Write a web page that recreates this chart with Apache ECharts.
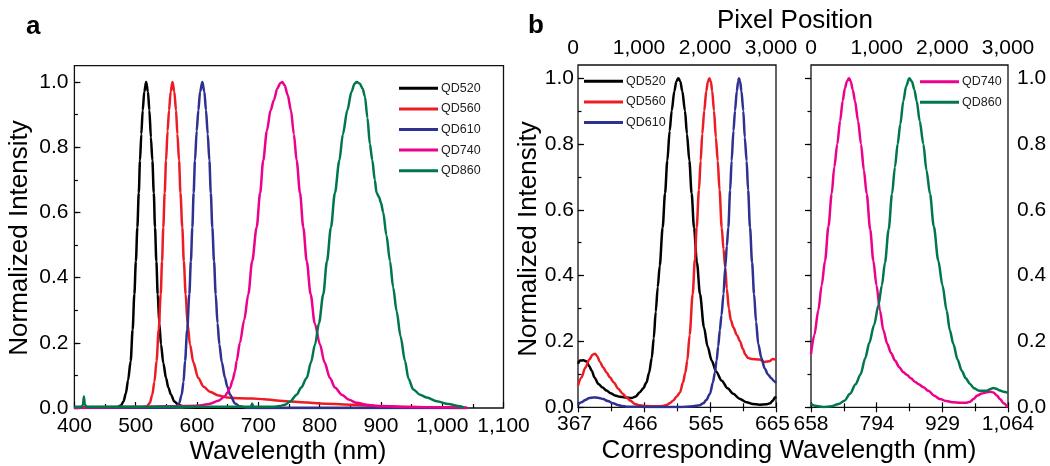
<!DOCTYPE html>
<html><head><meta charset="utf-8">
<script src="https://cdn.jsdelivr.net/npm/echarts@6/dist/echarts.min.js"></script>
<style>html,body{margin:0;padding:0;background:#fff}#c{width:1050px;height:466px}</style>
</head><body><div id="c"></div>
<script>
// ---------- tick labels ----------
const aXTickValues = [400, 500, 600, 700, 800, 900, 1000, 1100];
const aXTickLabels = ['400', '500', '600', '700', '800', '900', '1,000', '1,100'];
const yTickValues = [0, 0.2, 0.4, 0.6, 0.8, 1.0];
const yTickLabels = ['0.0', '0.2', '0.4', '0.6', '0.8', '1.0'];
const yMinorTickValues = [0, 0.1, 0.2, 0.3, 0.4, 0.5, 0.6, 0.7, 0.8, 0.9, 1.0];
const pixelTickValues = [0, 1000, 2000, 3000];
const pixelTickLabels = ['0', '1,000', '2,000', '3,000'];
const b1WlTickValues = [367, 466, 565, 665];
const b1WlTickLabels = ['367', '466', '565', '665'];
const b2WlTickValues = [658, 794, 929, 1064];
const b2WlTickLabels = ['658', '794', '929', '1,064'];

// ---------- series names ----------
const namesA = ['QD520', 'QD560', 'QD610', 'QD740', 'QD860'];
const namesB1 = ['QD520', 'QD560', 'QD610'];
const namesB2 = ['QD740', 'QD860'];

// ---------- panel a data: [wavelength nm, normalized intensity] ----------
const qd520A = [[400,0],[470,0.002],[476,0.008],[480,0.02],[484,0.045],[487.5,0.085],[491.8,0.144],[495,0.24],[497.8,0.349],[500.3,0.45],[502.7,0.554],[505,0.66],[507,0.759],[509.2,0.84],[511.4,0.913],[514,0.97],[517,1.0],[520,0.97],[522.3,0.913],[524.8,0.83],[527.2,0.759],[529.5,0.66],[531.5,0.554],[533.7,0.45],[535.9,0.349],[538.5,0.26],[541.3,0.195],[545,0.138],[549.5,0.092],[553.3,0.062],[557.6,0.041],[563,0.02],[569.6,0.01],[578,0.003],[600,0.001],[650,0],[1040,0]];
const qd560A = [[400,0.002],[510,0.003],[518,0.005],[523,0.015],[527,0.041],[530.5,0.08],[534,0.144],[537.5,0.24],[540.8,0.349],[543,0.45],[545,0.554],[547.3,0.66],[549.5,0.759],[552,0.85],[554.4,0.913],[557,0.97],[560,1.0],[563,0.97],[565.8,0.913],[568,0.84],[570.7,0.759],[573,0.66],[576,0.554],[578.5,0.45],[581.5,0.349],[584.5,0.26],[588.6,0.195],[594,0.14],[602,0.092],[611,0.065],[621,0.05],[635,0.038],[650,0.032],[670,0.03],[690,0.029],[710,0.027],[730,0.023],[750,0.02],[780,0.017],[800,0.014],[850,0.01],[900,0.006],[950,0.003],[1000,0.001],[1040,0]];
const qd610A = [[400,0],[560,0.001],[567,0.003],[571,0.015],[575,0.041],[578,0.08],[580.5,0.144],[584,0.24],[587.5,0.349],[590,0.45],[592.4,0.554],[594.5,0.66],[596.7,0.759],[599.5,0.85],[602.2,0.913],[605,0.97],[608.7,1.0],[612,0.97],[614.7,0.913],[617.5,0.84],[620.2,0.759],[622.5,0.66],[625,0.554],[627.8,0.45],[630.5,0.349],[633.5,0.26],[636.5,0.195],[640.5,0.14],[645.7,0.092],[649.5,0.065],[653.9,0.041],[662,0.014],[670,0.005],[680,0.001],[700,0],[1040,0]];
const qd740A = [[400,0.001],[500,0.003],[550,0.005],[600,0.007],[620,0.012],[635,0.022],[645,0.035],[650,0.048],[654,0.062],[658,0.085],[662,0.113],[664.7,0.144],[670,0.2],[677,0.27],[683.7,0.349],[690,0.45],[697.3,0.554],[703,0.66],[708,0.759],[714,0.85],[720,0.913],[725.5,0.945],[731,0.98],[736,0.997],[739,1.0],[743,0.99],[748,0.96],[753.3,0.913],[758,0.84],[762.6,0.759],[768,0.66],[773.4,0.554],[779,0.45],[785.4,0.349],[792,0.26],[800.6,0.195],[808,0.14],[816.9,0.092],[825,0.063],[836,0.041],[848,0.025],[860.4,0.016],[880,0.009],[900,0.005],[950,0.003],[1000,0.002],[1040,0.001]];
const qd860A = [[400,0.004],[412,0.004],[414,0.01],[415.5,0.035],[417,0.01],[420,0.004],[500,0.004],[600,0.004],[688,0.004],[690,0.014],[692,0.004],[724.5,0.004],[735,0.006],[743.5,0.01],[752,0.02],[762.6,0.041],[770,0.063],[778.9,0.092],[786,0.14],[792.5,0.195],[799,0.26],[806,0.349],[812,0.45],[818.5,0.554],[825,0.66],[832.2,0.759],[838,0.84],[845.2,0.913],[852,0.97],[857,0.995],[860.4,1.0],[865.6,0.995],[870,0.98],[874,0.955],[878,0.89],[882,0.81],[886,0.76],[890,0.7],[893,0.66],[897,0.647],[900,0.63],[903.8,0.6],[909,0.53],[914.8,0.451],[920,0.37],[925.7,0.297],[932,0.22],[939.3,0.144],[945,0.09],[952.8,0.057],[963.7,0.041],[975,0.032],[991,0.021],[1010,0.012],[1029,0.005],[1035,0.001]];

// ---------- panel b data: [corresponding wavelength nm, normalized intensity] ----------
const qd520B = [[367,0.132],[370,0.142],[375,0.143],[380,0.139],[384,0.125],[387.6,0.111],[392,0.09],[397.6,0.071],[404,0.06],[410,0.051],[416,0.043],[422.7,0.036],[430,0.032],[437.7,0.03],[447.8,0.028],[454,0.033],[460,0.046],[465,0.057],[470,0.075],[474,0.105],[478,0.15],[481,0.21],[484,0.29],[487,0.365],[490,0.43],[494.4,0.546],[498,0.65],[501.4,0.749],[505,0.84],[508,0.901],[512,0.96],[515,0.99],[518,1.0],[521,0.99],[524,0.96],[528,0.901],[531,0.83],[534.6,0.749],[538,0.65],[541.6,0.546],[546,0.44],[550.6,0.344],[556.6,0.243],[562,0.185],[568.2,0.142],[575,0.108],[583.3,0.081],[592,0.058],[600.7,0.041],[610,0.026],[620.8,0.015],[630,0.01],[640,0.008],[650,0.009],[656,0.012],[660,0.02],[663.5,0.03],[665,0.033]];
const qd560B = [[367,0.066],[372,0.09],[378,0.12],[384,0.145],[389,0.16],[392.6,0.163],[396,0.155],[400,0.138],[405,0.121],[410,0.106],[415,0.091],[421,0.075],[427.7,0.056],[434,0.042],[440,0.03],[446,0.02],[452.7,0.01],[460,0.006],[470,0.004],[485,0.003],[495,0.004],[500,0.007],[505,0.012],[510,0.02],[515.6,0.033],[520.5,0.045],[525,0.075],[528.5,0.105],[531.5,0.142],[535,0.22],[539.6,0.344],[543,0.45],[545.6,0.546],[549,0.66],[551.6,0.749],[554,0.83],[557,0.901],[560,0.96],[562.5,0.99],[564.7,1.0],[567,0.99],[569,0.96],[571.7,0.901],[574.5,0.82],[577.3,0.749],[580,0.66],[583.3,0.546],[586,0.48],[588.6,0.425],[591,0.36],[594,0.3],[597,0.265],[600.8,0.243],[606,0.22],[611,0.2],[615,0.178],[619,0.16],[623,0.15],[628,0.147],[640,0.145],[648,0.138],[655,0.14],[660,0.147],[665,0.145]];
const qd610B = [[367,0.008],[372,0.015],[378,0.022],[384,0.028],[390,0.03],[397,0.029],[405,0.025],[412,0.019],[420,0.012],[427,0.007],[433,0.004],[440,0.002],[480,0.001],[520,0.001],[540,0.003],[550,0.006],[555.5,0.012],[560,0.022],[565.6,0.041],[570,0.075],[573,0.105],[575.6,0.142],[578,0.185],[580.5,0.235],[583,0.28],[586,0.345],[588.6,0.425],[591,0.49],[593.2,0.546],[596,0.66],[598.2,0.749],[601,0.84],[603.3,0.901],[606,0.96],[608,0.99],[609.3,1.0],[611,0.99],[613,0.96],[615.8,0.901],[618,0.82],[620.8,0.749],[623,0.66],[625.9,0.546],[629,0.44],[632,0.344],[635,0.26],[638.3,0.192],[643,0.15],[648,0.118],[653,0.1],[658,0.088],[662,0.08],[665,0.074]];
const qd740B = [[658,0.162],[665,0.22],[673,0.294],[680,0.37],[686.9,0.445],[694,0.55],[700.6,0.648],[706,0.73],[712.2,0.8],[718,0.87],[723.3,0.931],[728,0.97],[732,0.99],[736.3,1.0],[740,0.99],[744,0.965],[748.7,0.931],[755,0.87],[761,0.8],[767,0.72],[772.8,0.648],[780,0.54],[786.5,0.445],[793,0.37],[800.2,0.294],[807,0.235],[815.3,0.192],[823,0.165],[831.1,0.142],[840,0.122],[848,0.107],[855.2,0.099],[864,0.088],[872,0.078],[880,0.07],[889.5,0.061],[900,0.05],[912,0.035],[923.9,0.025],[937,0.019],[951.4,0.015],[965,0.014],[979,0.014],[986,0.017],[992.7,0.025],[1000,0.035],[1010,0.042],[1020,0.046],[1027,0.047],[1033.8,0.045],[1041,0.036],[1047.5,0.025],[1055,0.012],[1063,0.0]];
const qd860B = [[658,0.01],[670,0.004],[683,0.001],[700,0.003],[715,0.01],[727,0.02],[738.4,0.041],[750,0.07],[760,0.1],[770,0.15],[778,0.195],[788,0.25],[797,0.31],[804,0.37],[810.5,0.44],[818,0.54],[825,0.648],[831,0.73],[836.6,0.8],[842,0.86],[848.3,0.931],[854,0.975],[860.6,1.0],[866,0.99],[871,0.965],[875.8,0.931],[882,0.87],[889.5,0.8],[896,0.72],[903.3,0.648],[911,0.55],[920.4,0.445],[929,0.37],[937.6,0.294],[944,0.235],[951.4,0.192],[960,0.145],[968.6,0.111],[977,0.088],[985.7,0.071],[994,0.058],[1002.8,0.051],[1010,0.05],[1020,0.05],[1027,0.055],[1033.8,0.059],[1040,0.056],[1047.5,0.051],[1055,0.047],[1064,0.044]];

// ---------- styles ----------
const seriesColors = { QD520: '#000000', QD560: '#ED1C24', QD610: '#2E3192', QD740: '#EC008C', QD860: '#00774A' };
const FONT = "'Liberation Sans', Arial, Helvetica, sans-serif";

function lookup(values, labels) {
  return function (v) {
    let best = -1, bd = Infinity;
    values.forEach((t, i) => { const d = Math.abs(t - v); if (d < bd) { bd = d; best = i; } });
    return bd < 1e-6 * Math.max(1, Math.abs(v)) + 1e-9 ? labels[best] : '';
  };
}

const chart = echarts.init(document.getElementById('c'), null, { renderer: 'canvas' });

const labelStyle = { color: '#000', fontSize: 21, fontFamily: FONT };
const tickStyle = { color: '#000', width: 1.2 };

function yMajor(grid, max, pos, margin, showLabel) {
  return {
    gridIndex: grid, type: 'value', min: 0, max: max, position: pos,
    axisLine: { show: false }, splitLine: { show: false },
    axisTick: { show: true, inside: true, length: 6, lineStyle: tickStyle, customValues: yTickValues },
    axisLabel: Object.assign({ show: showLabel, margin: margin, customValues: yTickValues, formatter: lookup(yTickValues, yTickLabels) }, labelStyle)
  };
}
function yMinor(grid, max, pos) {
  return {
    gridIndex: grid, type: 'value', min: 0, max: max, position: pos,
    axisLine: { show: false }, splitLine: { show: false }, axisLabel: { show: false },
    axisTick: { show: true, inside: true, length: 3.5, lineStyle: tickStyle, customValues: yMinorTickValues }
  };
}
function pixelAxis(grid, pos, showLabel, shift) {
  return {
    gridIndex: grid, type: 'value', min: 0, max: 3000, interval: 1000, position: pos,
    axisLine: { show: false }, splitLine: { show: false },
    axisTick: { show: true, inside: true, length: 5, lineStyle: tickStyle },
    minorTick: { show: true, splitNumber: 2, length: 4, lineStyle: tickStyle },
    axisLabel: Object.assign({ show: showLabel, margin: 6, padding: [0, shift, 0, 0], formatter: lookup(pixelTickValues, pixelTickLabels) }, labelStyle)
  };
}
function wlAxis(grid, min, max, vals, labs, shift) {
  return {
    gridIndex: grid, type: 'value', min: min, max: max, position: 'bottom',
    axisLine: { show: false }, splitLine: { show: false }, axisTick: { show: false },
    axisLabel: Object.assign({ margin: 6, padding: [0, shift, 0, 0], customValues: vals, formatter: lookup(vals, labs) }, labelStyle)
  };
}

function mkSeries(name, data, xi, yi) {
  return {
    type: 'line', name: name, data: data, xAxisIndex: xi, yAxisIndex: yi,
    showSymbol: false, symbol: 'none', smooth: 0.3, smoothMonotone: 'x',
    color: seriesColors[name], lineStyle: { width: 2.5, color: seriesColors[name] },
    emphasis: { disabled: true }, silent: true
  };
}

const legendBase = {
  orient: 'vertical', itemWidth: 39, itemHeight: 3, itemGap: 6.6, icon: 'rect', selectedMode: false,
  padding: 0, textStyle: { fontSize: 12.5, fontFamily: FONT, color: '#222', lineHeight: 14, padding: [0, 0, 0, -2] }
};

const option = {
  animation: false,
  backgroundColor: '#fff',
  grid: [
    { left: 74.4, top: 65.7, width: 429.1, height: 342.3, show: true, borderColor: '#111', borderWidth: 1.3, backgroundColor: 'transparent' },
    { left: 578, top: 65, width: 198, height: 342.3, show: true, borderColor: '#111', borderWidth: 1.3, backgroundColor: 'transparent' },
    { left: 811, top: 65, width: 197, height: 342.3, show: true, borderColor: '#111', borderWidth: 1.3, backgroundColor: 'transparent' }
  ],
  xAxis: [
    {
      gridIndex: 0, type: 'value', min: 400, max: 1100, interval: 100, position: 'bottom',
      axisLine: { show: false }, splitLine: { show: false },
      axisTick: { show: true, inside: true, length: 6, lineStyle: tickStyle },
      minorTick: { show: true, splitNumber: 2, length: 4, lineStyle: tickStyle },
      axisLabel: Object.assign({ margin: 8, formatter: lookup(aXTickValues, aXTickLabels) }, labelStyle)
    },
    pixelAxis(1, 'top', true, 10),
    pixelAxis(1, 'bottom', false, 0),
    wlAxis(1, 367, 665, b1WlTickValues, b1WlTickLabels, 7),
    pixelAxis(2, 'top', true, 0),
    pixelAxis(2, 'bottom', false, 0),
    wlAxis(2, 658, 1064, b2WlTickValues, b2WlTickLabels, 0)
  ],
  yAxis: [
    yMajor(0, 1.05, 'left', 6, true),
    yMinor(0, 1.05, 'left'),
    yMajor(1, 1.04, 'left', 4, true),
    yMinor(1, 1.04, 'left'),
    yMajor(2, 1.04, 'right', 9, true),
    yMinor(2, 1.04, 'right')
  ],
  legend: [
    Object.assign({}, legendBase, { data: namesA, left: 399, top: 81.3 }),
    Object.assign({}, legendBase, { data: namesB1, left: 584, top: 74.3 }),
    Object.assign({}, legendBase, { data: namesB2, left: 920, top: 74.7 })
  ],
  series: [
    mkSeries('QD520', qd520A, 0, 0),
    mkSeries('QD560', qd560A, 0, 0),
    mkSeries('QD610', qd610A, 0, 0),
    mkSeries('QD740', qd740A, 0, 0),
    mkSeries('QD860', qd860A, 0, 0),
    mkSeries('QD520', qd520B, 3, 2),
    mkSeries('QD560', qd560B, 3, 2),
    mkSeries('QD610', qd610B, 3, 2),
    mkSeries('QD740', qd740B, 6, 4),
    mkSeries('QD860', qd860B, 6, 4)
  ],
  graphic: [
    { type: 'text', x: 26, y: 27, style: { text: 'a', font: 'bold 26px ' + FONT, fill: '#000', align: 'left', verticalAlign: 'middle' } },
    { type: 'text', x: 528, y: 26, style: { text: 'b', font: 'bold 26px ' + FONT, fill: '#000', align: 'left', verticalAlign: 'middle' } },
    { type: 'text', x: 288, y: 452, style: { text: 'Wavelength (nm)', font: '26px ' + FONT, fill: '#000', align: 'center', verticalAlign: 'middle' } },
    { type: 'text', x: 789, y: 451, style: { text: 'Corresponding Wavelength (nm)', font: '26px ' + FONT, fill: '#000', align: 'center', verticalAlign: 'middle' } },
    { type: 'text', x: 795, y: 21, style: { text: 'Pixel Position', font: '26px ' + FONT, fill: '#000', align: 'center', verticalAlign: 'middle' } },
    { type: 'text', x: 19.5, y: 238, rotation: Math.PI / 2, style: { text: 'Normalized Intensity', font: '26px ' + FONT, fill: '#000', align: 'center', verticalAlign: 'middle' } },
    { type: 'text', x: 529, y: 239, rotation: Math.PI / 2, style: { text: 'Normalized Intensity', font: '26px ' + FONT, fill: '#000', align: 'center', verticalAlign: 'middle' } }
  ]
};
chart.setOption(option);
</script>
</body></html>
